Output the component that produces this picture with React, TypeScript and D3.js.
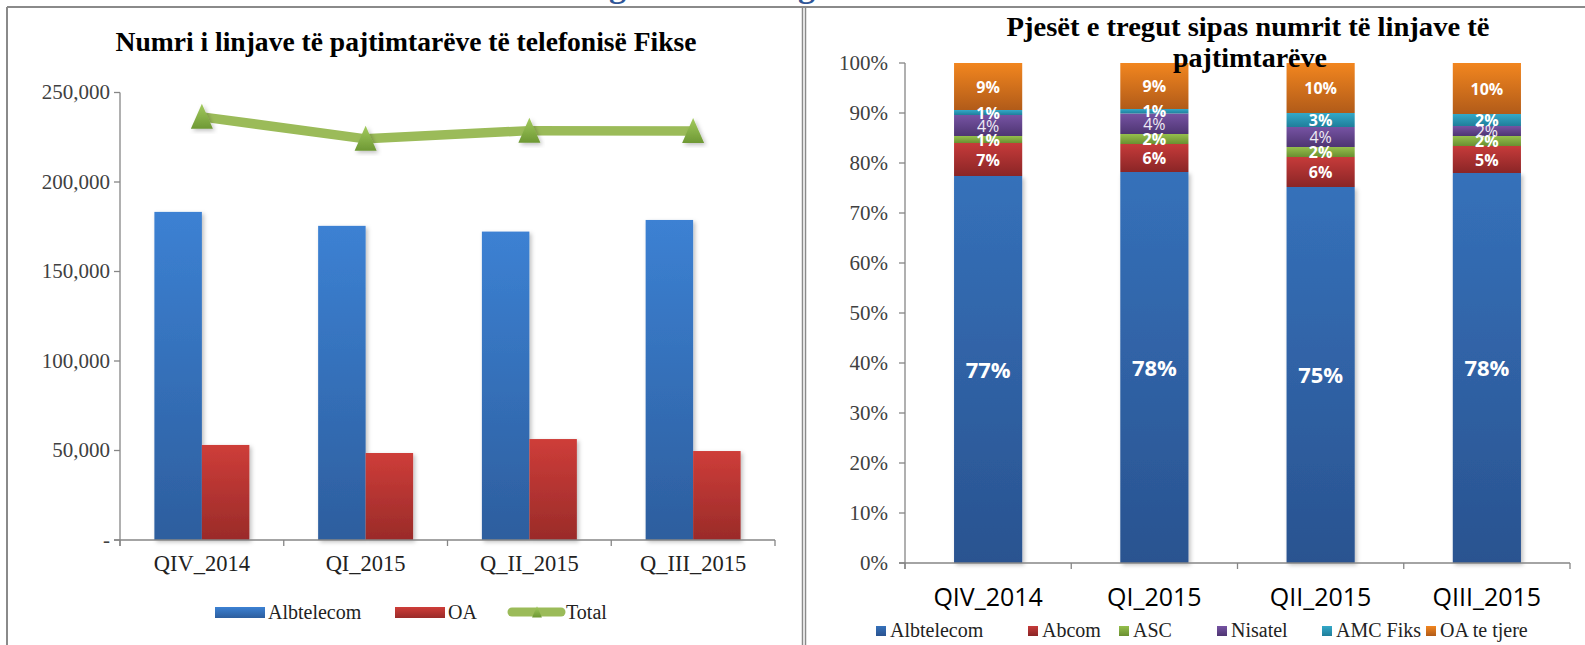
import React from "react";
import * as d3 from "d3";

// ---------- Left chart data ----------
const quartersLeft = ["QIV_2014", "QI_2015", "Q_II_2015", "Q_III_2015"];
const albtelecomLines = [183300, 175500, 172300, 178800];
const oaLines = [53100, 48600, 56400, 49700];
const totalLines = [236400, 224100, 228700, 228500];
const leftTicks = [0, 50000, 100000, 150000, 200000, 250000];
const leftSeriesNames = ["Albtelecom", "OA", "Total"];

// ---------- Right chart data ----------
const quartersRight = ["QIV_2014", "QI_2015", "QII_2015", "QIII_2015"];
const operators = ["Albtelecom", "Abcom", "ASC", "Nisatel", "AMC Fiks", "OA te tjere"];
const shareAlbtelecom = [77.4, 78.2, 75.2, 78.0];
const shareAbcom = [6.6, 5.6, 6.0, 5.4];
const shareASC = [1.4, 2.0, 2.0, 2.0];
const shareNisatel = [4.2, 4.1, 4.0, 2.0];
const shareAMC = [1.0, 0.9, 2.8, 2.4];
const shareOA = [9.4, 9.2, 10.0, 10.2];
const rightTicks = [0, 10, 20, 30, 40, 50, 60, 70, 80, 90, 100];

const leftTitle = "Numri i linjave të pajtimtarëve të telefonisë Fikse";
const rightTitle1 = "Pjesët e tregut sipas numrit të linjave të";
const rightTitle2 = "pajtimtarëve";

const SERIF = "'Liberation Serif', 'Times New Roman', serif";
const SANS = "'Open Sans', 'Noto Sans', sans-serif";

const opColors: [string, string][] = [
  ["#3571BA", "#2A5390"],
  ["#C63B3A", "#8A2526"],
  ["#95BF4C", "#6A8F31"],
  ["#7653A3", "#4E3572"],
  ["#34A8C8", "#1F7E9A"],
  ["#F2861F", "#B15B19"],
];

export default function App() {
  // Left scales
  const xL = d3.scaleBand<string>().domain(quartersLeft).range([120, 775]).paddingInner(0.42).paddingOuter(0.21);
  const xSub = d3.scaleBand<string>().domain(["Albtelecom", "OA"]).range([0, xL.bandwidth()]);
  const yL = d3.scaleLinear().domain([0, 250000]).range([540, 92.5]);
  const fmt = d3.format(",");
  const lineGen = d3
    .line<number>()
    .x((_, i) => (xL(quartersLeft[i]) as number) + xL.bandwidth() / 2)
    .y((d) => yL(d));

  // Right scales
  const R0 = 905;
  const R1 = 1570;
  const xR = d3.scaleBand<string>().domain(quartersRight).range([R0, R1]).paddingInner(0.59).paddingOuter(0.295);
  const yR = d3.scaleLinear().domain([0, 100]).range([563, 63]);
  const rows = quartersRight.map((q, i) => ({
    q,
    Albtelecom: shareAlbtelecom[i],
    Abcom: shareAbcom[i],
    ASC: shareASC[i],
    Nisatel: shareNisatel[i],
    "AMC Fiks": shareAMC[i],
    "OA te tjere": shareOA[i],
  }));
  const stacked = d3.stack<any>().keys(operators)(rows);

  const tri = (cx: number, cy: number, s = 1) =>
    `M${cx},${cy - 13 * s} L${cx + 11 * s},${cy + 12 * s} L${cx - 11 * s},${cy + 12 * s} Z`;

  const bandStepL = xL.step();
  const boundariesL = d3.range(quartersLeft.length + 1).map((i) => 120 + i * bandStepL);
  const bandStepR = xR.step();
  const boundariesR = d3.range(quartersRight.length + 1).map((i) => R0 + i * bandStepR);

  const legendRightX = [876, 1028, 1119, 1217, 1322, 1426];

  return (
    <svg
      width={1585}
      height={645}
      style={{ position: "absolute", left: 0, top: 0, display: "block", background: "#fff" }}
    >
      <defs>
        <linearGradient id="gBlue" x1="0" y1="0" x2="0" y2="1">
          <stop offset="0" stopColor="#3C81D3" />
          <stop offset="1" stopColor="#2D5E9E" />
        </linearGradient>
        <linearGradient id="gRed" x1="0" y1="0" x2="0" y2="1">
          <stop offset="0" stopColor="#CE3D39" />
          <stop offset="1" stopColor="#9A2B29" />
        </linearGradient>
        <linearGradient id="gTri" x1="0" y1="0" x2="0" y2="1">
          <stop offset="0" stopColor="#A3CB5E" />
          <stop offset="1" stopColor="#6E9834" />
        </linearGradient>
        {opColors.map((c, i) => (
          <linearGradient key={i} id={`gOp${i}`} x1="0" y1="0" x2="0" y2="1">
            <stop offset="0" stopColor={c[0]} />
            <stop offset="1" stopColor={c[1]} />
          </linearGradient>
        ))}
        <filter id="shadow" x="-20%" y="-20%" width="140%" height="140%">
          <feDropShadow dx="2" dy="2" stdDeviation="2" floodColor="#000" floodOpacity="0.25" />
        </filter>
      </defs>

      {/* partially visible heading above */}
      <text x={609} y={-3} fontFamily={SERIF} fontWeight="bold" fontSize={34} fill="#2F5597">g</text>
      <text x={798} y={-3} fontFamily={SERIF} fontWeight="bold" fontSize={34} fill="#2F5597">g</text>

      {/* panel borders */}
      <line x1={7} y1={7} x2={1585} y2={7} stroke="#8a8a8a" strokeWidth={2} />
      <line x1={7} y1={7} x2={7} y2={645} stroke="#8a8a8a" strokeWidth={2} />
      <line x1={802.5} y1={7} x2={802.5} y2={645} stroke="#8a8a8a" strokeWidth={1.5} />
      <line x1={805.5} y1={7} x2={805.5} y2={645} stroke="#8a8a8a" strokeWidth={1.5} />

      {/* ---------------- LEFT CHART ---------------- */}
      <text
        x={406}
        y={51}
        textAnchor="middle"
        fontFamily={SERIF}
        fontWeight="bold"
        fontSize={27.5}
        textLength={581}
        lengthAdjust="spacingAndGlyphs"
        fill="#000"
      >
        {leftTitle}
      </text>

      {/* bars */}
      {quartersLeft.map((q, i) => {
        const x0 = xL(q) as number;
        return (
          <g key={q} filter="url(#shadow)">
            <rect
              x={x0 + (xSub("Albtelecom") as number)}
              y={yL(albtelecomLines[i])}
              width={xSub.bandwidth()}
              height={yL(0) - yL(albtelecomLines[i])}
              fill="url(#gBlue)"
            />
            <rect
              x={x0 + (xSub("OA") as number)}
              y={yL(oaLines[i])}
              width={xSub.bandwidth()}
              height={yL(0) - yL(oaLines[i])}
              fill="url(#gRed)"
            />
          </g>
        );
      })}

      {/* axes */}
      <line x1={120} y1={yL(250000)} x2={120} y2={yL(0) + 6} stroke="#868686" strokeWidth={1.3} />
      {leftTicks.map((t) => (
        <g key={t}>
          <line x1={114} x2={120} y1={yL(t)} y2={yL(t)} stroke="#868686" strokeWidth={1.3} />
          <text x={110} y={yL(t) + 6.5} textAnchor="end" fontFamily={SERIF} fontSize={21} fill="#404040">
            {t === 0 ? "-" : fmt(t)}
          </text>
        </g>
      ))}
      <line x1={114} x2={775} y1={yL(0)} y2={yL(0)} stroke="#868686" strokeWidth={1.3} />
      {boundariesL.map((b, i) => (
        <line key={i} x1={b} x2={b} y1={yL(0)} y2={yL(0) + 6} stroke="#868686" strokeWidth={1.3} />
      ))}
      {quartersLeft.map((q) => (
        <text
          key={q}
          x={(xL(q) as number) + xL.bandwidth() / 2}
          y={571}
          textAnchor="middle"
          fontFamily={SERIF}
          fontSize={22.5}
          fill="#222"
        >
          {q}
        </text>
      ))}

      {/* total line */}
      <path d={lineGen(totalLines) || ""} fill="none" stroke="#9BBB59" strokeWidth={9.5} strokeLinejoin="round" />
      {totalLines.map((v, i) => (
        <path
          key={i}
          d={tri((xL(quartersLeft[i]) as number) + xL.bandwidth() / 2, yL(v))}
          fill="url(#gTri)"
          filter="url(#shadow)"
        />
      ))}

      {/* left legend */}
      <rect x={215} y={607} width={50} height={11} fill="url(#gBlue)" />
      <text x={268} y={619} fontFamily={SERIF} fontSize={20} fill="#222">{leftSeriesNames[0]}</text>
      <rect x={395} y={607} width={50} height={11} fill="url(#gRed)" />
      <text x={448} y={619} fontFamily={SERIF} fontSize={20} fill="#222">{leftSeriesNames[1]}</text>
      <line x1={512} x2={561} y1={612} y2={612} stroke="#9BBB59" strokeWidth={9} strokeLinecap="round" />
      <path d={tri(537, 612, 0.45)} fill="url(#gTri)" />
      <text x={566} y={619} fontFamily={SERIF} fontSize={20} fill="#222">{leftSeriesNames[2]}</text>

      {/* ---------------- RIGHT CHART ---------------- */}
      {stacked.map((layer, li) => (
        <g key={layer.key}>
          {layer.map((d, i) => (
            <rect
              key={i}
              x={xR(quartersRight[i]) as number}
              y={yR(d[1])}
              width={xR.bandwidth()}
              height={yR(d[0]) - yR(d[1])}
              fill={`url(#gOp${li})`}
              filter={li === 0 ? "url(#shadow)" : undefined}
            />
          ))}
        </g>
      ))}
      {stacked.map((layer, li) =>
        layer.map((d, i) => {
          const v = d[1] - d[0];
          const cx = (xR(quartersRight[i]) as number) + xR.bandwidth() / 2;
          const cy = (yR(d[0]) + yR(d[1])) / 2;
          const big = li === 0;
          return (
            <text
              key={`${li}-${i}`}
              x={cx}
              y={cy + (big ? 8 : 6)}
              textAnchor="middle"
              fontFamily={SANS}
              fontWeight={li === 3 ? 400 : 700}
              fontSize={big ? 22 : 16}
              fill={li === 3 ? "#eeeaf4" : "#fff"}
            >
              {`${Math.round(v)}%`}
            </text>
          );
        })
      )}

      {/* right axes */}
      <line x1={R0} y1={yR(100)} x2={R0} y2={yR(0) + 6} stroke="#868686" strokeWidth={1.3} />
      {rightTicks.map((t) => (
        <g key={t}>
          <line x1={R0 - 6} x2={R0} y1={yR(t)} y2={yR(t)} stroke="#868686" strokeWidth={1.3} />
          <text x={888} y={yR(t) + 6.5} textAnchor="end" fontFamily={SERIF} fontSize={21} fill="#404040">
            {`${t}%`}
          </text>
        </g>
      ))}
      <line x1={R0 - 6} x2={R1} y1={yR(0)} y2={yR(0)} stroke="#868686" strokeWidth={1.3} />
      {boundariesR.map((b, i) => (
        <line key={i} x1={b} x2={b} y1={yR(0)} y2={yR(0) + 6} stroke="#868686" strokeWidth={1.3} />
      ))}
      {quartersRight.map((q) => (
        <text
          key={q}
          x={(xR(q) as number) + xR.bandwidth() / 2}
          y={606}
          textAnchor="middle"
          fontFamily={SANS}
          fontSize={25}
          fill="#000"
        >
          {q}
        </text>
      ))}

      {/* right legend */}
      {operators.map((op, i) => (
        <g key={op}>
          <rect x={legendRightX[i]} y={626} width={10} height={10} fill={`url(#gOp${i})`} />
          <text x={legendRightX[i] + 14} y={637} fontFamily={SERIF} fontSize={20} fill="#222">
            {op}
          </text>
        </g>
      ))}

      {/* right title (drawn on top) */}
      <text
        x={1248}
        y={36}
        textAnchor="middle"
        fontFamily={SERIF}
        fontWeight="bold"
        fontSize={28}
        textLength={483}
        lengthAdjust="spacingAndGlyphs"
        fill="#000"
      >
        {rightTitle1}
      </text>
      <text
        x={1250}
        y={67}
        textAnchor="middle"
        fontFamily={SERIF}
        fontWeight="bold"
        fontSize={28}
        textLength={154}
        lengthAdjust="spacingAndGlyphs"
        fill="#000"
      >
        {rightTitle2}
      </text>
    </svg>
  );
}
